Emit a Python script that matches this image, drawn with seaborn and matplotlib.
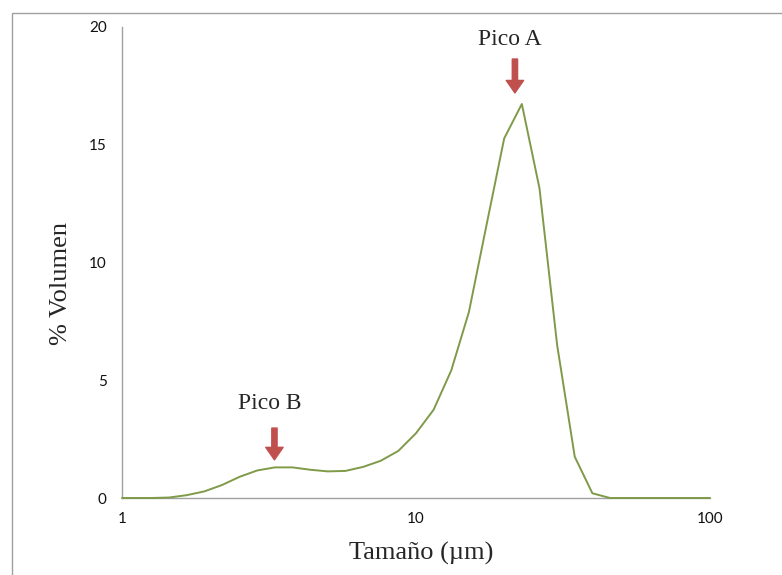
import matplotlib
matplotlib.use('Agg')
import matplotlib.pyplot as plt
import matplotlib.ticker as mticker
from matplotlib.patches import Rectangle
import seaborn as sns
import pandas as pd

# tamaños de partícula (um) y % volumen
tamano = [1.0, 1.096, 1.259, 1.445, 1.660, 1.905, 2.188, 2.512, 2.884, 3.311, 3.802,
          4.365, 5.012, 5.754, 6.607, 7.586, 8.710, 10.0, 11.482, 13.183, 15.136,
          17.378, 19.953, 22.909, 26.303, 30.200, 34.674, 39.811, 45.709, 52.481,
          60.256, 69.183, 79.433, 91.201, 100.0]
volumen = [0.0, 0.0, 0.0, 0.02, 0.12, 0.28, 0.55, 0.9, 1.17, 1.3, 1.3,
           1.2, 1.13, 1.15, 1.32, 1.58, 2.0, 2.75, 3.75, 5.42, 7.9,
           11.6, 15.27, 16.73, 13.15, 6.5, 1.75, 0.2, 0.0, 0.0,
           0.0, 0.0, 0.0, 0.0, 0.0]

picos = ['Pico A', 'Pico B']
pico_x = [21.7, 3.30]
pico_y = [16.73, 1.32]

yticks = [0, 5, 10, 15, 20]
xticks = [1, 10, 100]

df = pd.DataFrame({'tamano': tamano, 'volumen': volumen})

sns.set_style('white')
fig = plt.figure(figsize=(7.82, 5.75), dpi=100)
ax = fig.add_axes([122/782, 1-498/575, 588/782, 471/575])

sns.lineplot(data=df, x='tamano', y='volumen', ax=ax, color='#7F9A48',
             linewidth=1.4, zorder=3, clip_on=False)

ax.set_xscale('log')
ax.set_xlim(1, 100)
ax.set_ylim(0, 20)
ax.xaxis.set_major_locator(mticker.FixedLocator(xticks))
ax.xaxis.set_major_formatter(mticker.FixedFormatter([str(t) for t in xticks]))
ax.xaxis.set_minor_locator(mticker.NullLocator())
ax.set_yticks(yticks)

for s in ['top', 'right']:
    ax.spines[s].set_visible(False)
for s in ['left', 'bottom']:
    ax.spines[s].set_color('#A0A0A0')
    ax.spines[s].set_linewidth(1)

ax.tick_params(axis='both', direction='out', length=4, width=1, color='#A0A0A0',
               labelsize=11, labelcolor='#111111')
ax.tick_params(axis='y', pad=7)
ax.tick_params(axis='x', pad=6)
for lab in ax.get_xticklabels() + ax.get_yticklabels():
    lab.set_family('Lato')

ax.set_xlabel('Tamaño (µm)', family='Liberation Serif', fontsize=19, va='center')
ax.set_ylabel('% Volumen', family='Liberation Serif', fontsize=19, va='center')
ax.xaxis.set_label_coords(0.508, -0.117)
ax.yaxis.set_label_coords(-0.104, 0.456)

# etiquetas y flechas de los picos
texto_pos = [(20.9, 19.45), (3.19, 4.01)]
flecha_ini = [18.64, 2.97]
flecha_fin = [17.2, 1.62]
for nombre, px, (tx, ty), fy0, fy1 in zip(picos, pico_x, texto_pos, flecha_ini, flecha_fin):
    ax.text(tx, ty, nombre, family='Liberation Serif', fontsize=17,
            ha='center', va='center')
    ax.annotate('', xy=(px, fy1), xytext=(px, fy0),
                arrowprops=dict(arrowstyle='simple,head_width=1.25,head_length=0.9,tail_width=0.38',
                                color='#C0504D', shrinkA=0, shrinkB=0, mutation_scale=10))

fig.patches.append(Rectangle((12/782, -0.1), 1.2, 1.1 - 13/575, transform=fig.transFigure,
                             fill=False, edgecolor='#A0A0A0', linewidth=1))

fig.savefig('out.png', dpi=100)
